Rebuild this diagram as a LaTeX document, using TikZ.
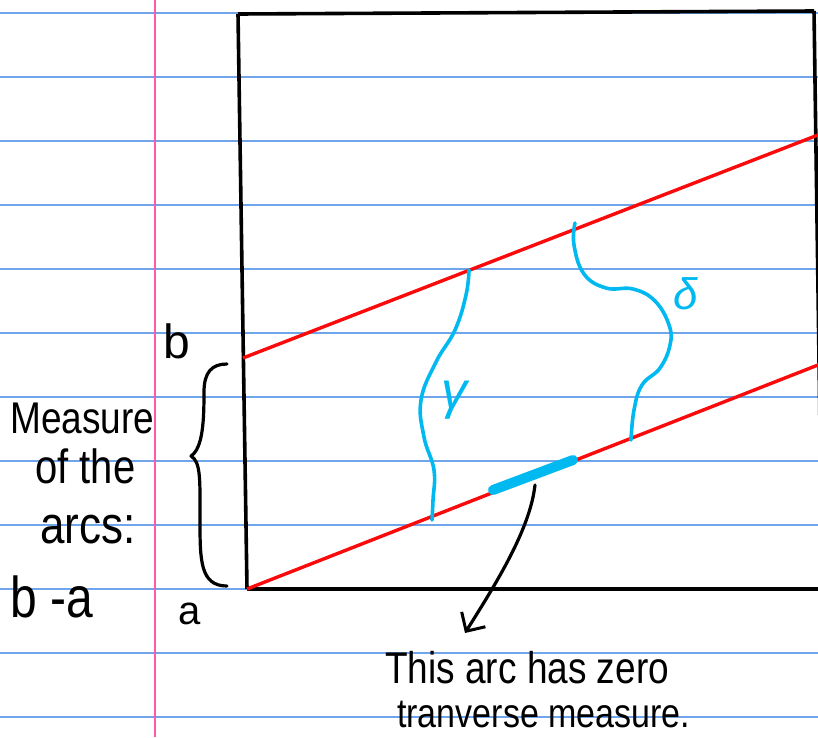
\documentclass[tikz,border=0pt]{standalone}
\usepackage{fontspec}
\setmainfont{Liberation Sans}
\usetikzlibrary{arrows.meta}
\definecolor{rulecol}{RGB}{110,165,235}
\definecolor{margincol}{RGB}{255,90,170}
\definecolor{redcol}{RGB}{250,10,10}
\definecolor{cyancol}{RGB}{0,185,240}
\newcommand{\tallhand}[1]{\scalebox{1}[1.2]{#1}}
\tikzset{
  ruleline/.style={rulecol, line width=1.6},
  marginline/.style={margincol, line width=1.6},
  boxline/.style={black, line width=3.6},
  redline/.style={redcol, line width=3.4},
  cyanline/.style={cyancol, line width=3.6, line cap=round, line join=round},
  thickarc/.style={cyancol, line width=10, line cap=round},
  inkline/.style={black, line width=3.2, line cap=round, line join=round},
  hand/.style={inner sep=0pt, black},
}
\begin{document}
\begin{tikzpicture}[x=1pt,y=-1pt]
\useasboundingbox (0,0) rectangle (818,737);
\clip (0,0) rectangle (818,737);
\fill[white] (0,0) rectangle (818,737);
% ruled paper
\foreach \k in {0,...,11} \draw[ruleline] (0,{13+64*\k}) -- (818,{13+64*\k});
\draw[marginline] (155,0) -- (155,737);
% box
\coordinate (tl) at (238,14);
\coordinate (tr) at (814,11);
\coordinate (bl) at (247,589);
\coordinate (br) at (818,589);
\coordinate (rb) at (820,430);
\draw[boxline] (tl) -- (tr);
\draw[boxline] (tl) -- (bl);
\draw[boxline] (bl) -- (br);
\draw[boxline] (tr) -- (rb);
% red lines
\coordinate (uL) at (243,358);
\coordinate (uR) at (818,135);
\coordinate (lR) at (818,365);
\draw[redline] (uL) -- (uR);
\draw[redline] (bl) -- (lR);
% cyan arcs
\draw[cyanline] plot[smooth, tension=0.7] coordinates {(469,270) (466,295) (455,330) (436,362) (421,400) (424,437) (434,470) (433,500) (432,520)};
\draw[cyanline] plot[smooth, tension=0.7] coordinates {(575,223) (574,245) (584,274) (606,288) (633,289) (655,301) (669,325) (670,345) (660,368) (642,385) (634,410) (631,440)};
\draw[thickarc] (493,490) -- (573,460);
\node[hand, cyancol, font=\fontsize{52}{56}\selectfont\itshape] (gam) at (454,400) {γ};
\node[hand, cyancol, font=\fontsize{44}{48}\selectfont\itshape] (del) at (686,294) {δ};
% labels a, b
\node[hand, font=\fontsize{48}{52}\selectfont] (lb) at (177,341) {b};
\node[hand, font=\fontsize{40}{44}\selectfont] (la) at (190,614) {a};
% brace
\draw[inkline] (227,364) .. controls (212,364) and (204,372) .. (204,392)
  .. controls (204,420) and (203,448) .. (191,456)
  .. controls (201,462) and (200,480) .. (200,520)
  .. controls (200,560) and (200,586) .. (227,586);
% left text
\node[hand, anchor=base west, font=\fontsize{37}{42}\selectfont] (t1) at (10,433) {\tallhand{Measure}};
\node[hand, anchor=base west, font=\fontsize{40}{44}\selectfont] (t2) at (35,483) {\tallhand{of the}};
\node[hand, anchor=base west, font=\fontsize{44}{48}\selectfont] (t3) at (40,543) {\tallhand{arcs:}};
\node[hand, anchor=base west, font=\fontsize{48}{52}\selectfont] (t4) at (10,617) {\tallhand{b -a}};
% bottom note
\node[hand, anchor=base west, font=\fontsize{37}{40}\selectfont] (n1) at (385,683) {\tallhand{This arc has zero}};
\node[hand, anchor=base west, font=\fontsize{34}{38}\selectfont] (n2) at (397,727) {\tallhand{tranverse measure.}};
% arrow
\coordinate (aS) at (535,485);
\coordinate (aE) at (465,633);
\draw[inkline, -{Straight Barb[length=14pt, width=28pt, line width=3pt]}] (aS) .. controls (530,530) and (495,585) .. (aE);
\end{tikzpicture}
\end{document}
